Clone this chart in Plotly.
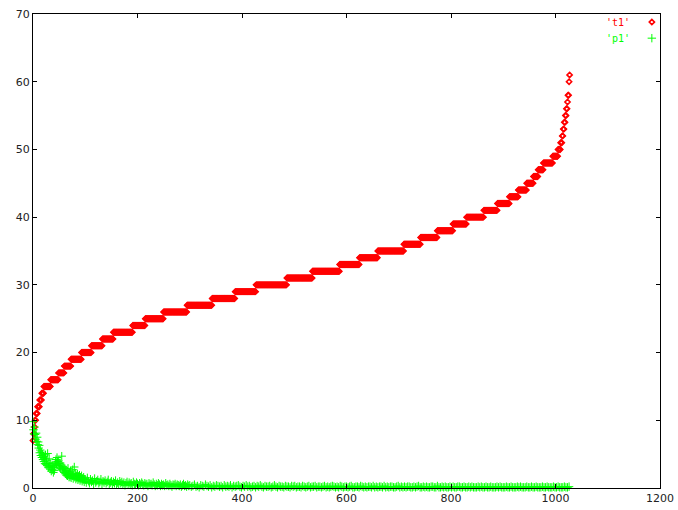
import plotly.graph_objects as go

# ---- t1: sorted staircase, (level, first index where level starts) ----
t1_levels = [7, 8, 9, 10, 11, 12, 13, 14, 15, 16, 17, 18, 19, 20, 21, 22, 23, 24, 25,
             26, 27, 28, 29, 30, 31, 32, 33, 34, 35, 36, 37, 38, 39, 40, 41, 42, 43,
             44, 45, 46, 47, 48, 49, 50, 51, 52, 53, 54, 55, 56, 57, 58, 60, 61]
t1_starts = [0, 1, 3, 4, 6, 9, 13, 17, 21, 34, 49, 60, 73, 93, 112, 133, 154, 191, 215,
             250, 295, 343, 387, 427, 486, 535, 587, 625, 660, 710, 742, 774, 804, 830, 863, 889, 912,
             929, 945, 958, 967, 977, 995, 1005, 1010, 1013, 1015, 1017, 1019, 1021, 1023, 1024, 1026, 1027]
t1_end = 1028

# ---- p1 values ----
p1_head = [9.8, 8.6, 8.0, 9.0, 7.9, 7.2, 8.1, 6.9, 7.5, 6.4,
           6.8, 5.9, 6.3, 5.2, 5.6, 4.8, 5.3, 4.5, 5.0, 4.2,
           4.7, 3.9, 4.4, 3.6, 4.9, 3.5, 4.1, 3.3, 5.1, 3.7,
           3.0, 4.3, 3.2, 2.8, 3.6, 2.5, 3.1, 2.7, 3.4, 2.3,
           3.0, 2.6, 3.3, 3.8, 4.2, 3.5, 4.5, 3.9, 3.3, 4.0,
           3.6, 3.1, 3.7, 2.9, 3.4, 4.7, 2.7, 3.2, 2.5, 3.0,
           2.3, 2.8, 2.1, 2.6, 1.9, 2.4, 1.8, 2.9, 2.0, 1.6,
           2.2, 1.7, 2.5, 1.5, 2.0, 1.8, 2.7, 1.4, 1.9, 3.1,
           1.6, 2.2, 1.3, 1.8, 1.5, 2.1, 1.2, 1.7, 1.4, 1.9,
           1.1, 1.6, 1.3, 1.8, 1.0, 1.4, 1.2, 1.6, 0.9, 1.3]
p1_mid = [1.2, 0.8, 1.5, 1.0, 0.7, 1.3, 0.9, 1.1, 0.6, 1.4,
          0.8, 1.0, 1.2, 0.7, 0.9, 1.3, 0.6, 1.0, 0.8, 1.1,
          0.7, 0.9, 1.2, 0.6, 0.8, 1.0, 0.5, 0.9, 0.7, 1.1,
          0.6, 0.8, 0.5, 1.0, 0.7, 0.9, 0.6, 0.8, 0.4, 0.7,
          0.9, 0.5, 0.8, 0.6, 0.7, 0.4, 0.9, 0.6, 0.5, 0.8,
          0.6, 0.4, 0.7, 0.5, 0.8, 0.6, 0.4, 0.7, 0.5, 0.6,
          0.3, 0.7, 0.5, 0.6, 0.4, 0.8, 0.5, 0.3, 0.6, 0.4,
          0.7, 0.5, 0.3, 0.6, 0.4, 0.5, 0.3, 0.7, 0.4, 0.5,
          0.3, 0.6, 0.4, 0.2, 0.5, 0.4, 0.6, 0.3, 0.5, 0.4,
          0.3, 0.5, 0.2, 0.4, 0.6, 0.3, 0.4, 0.2, 0.5, 0.3]
p1_tail = [0.4, 0.2, 0.3, 0.5, 0.2, 0.3, 0.1, 0.4, 0.3, 0.2, 0.5, 0.3, 0.2, 0.4, 0.1, 0.3, 0.2, 0.4, 0.3, 0.2,
           0.3, 0.1, 0.4, 0.2, 0.3, 0.2, 0.4, 0.1, 0.3, 0.2, 0.3, 0.4, 0.2, 0.1, 0.3, 0.2, 0.4, 0.2, 0.3, 0.1,
           0.2, 0.3, 0.1, 0.3, 0.2, 0.4, 0.2, 0.1, 0.3, 0.2, 0.2, 0.3, 0.1, 0.2, 0.4, 0.2, 0.1, 0.3, 0.2, 0.2,
           0.1, 0.3, 0.2, 0.2, 0.1, 0.3, 0.2, 0.3, 0.1, 0.2, 0.2, 0.1, 0.3, 0.2, 0.1, 0.2, 0.3, 0.1, 0.2, 0.2,
           0.3, 0.1, 0.2, 0.2, 0.1, 0.2, 0.3, 0.1, 0.2, 0.1, 0.2, 0.3, 0.2, 0.1, 0.2, 0.1, 0.3, 0.2, 0.1, 0.2,
           0.2, 0.1, 0.2, 0.3, 0.1, 0.1, 0.2, 0.2, 0.1, 0.3, 0.2, 0.1, 0.2, 0.1, 0.2, 0.2, 0.1, 0.3, 0.1, 0.2,
           0.1, 0.2, 0.2, 0.1, 0.3, 0.1, 0.2, 0.1, 0.2, 0.2, 0.1, 0.1, 0.2, 0.3, 0.1, 0.2, 0.1, 0.2, 0.1, 0.2,
           0.2, 0.1, 0.1, 0.2, 0.1, 0.2, 0.3, 0.1, 0.1, 0.2, 0.1, 0.2, 0.1, 0.1, 0.2, 0.2, 0.1, 0.1, 0.3, 0.1,
           0.1, 0.2, 0.1, 0.2, 0.1, 0.1, 0.2, 0.1, 0.2, 0.1, 0.1, 0.2, 0.2, 0.1, 0.1, 0.2, 0.1, 0.1, 0.2, 0.1,
           0.2, 0.1, 0.1, 0.1, 0.2, 0.1, 0.2, 0.1, 0.1, 0.2, 0.1, 0.1, 0.2, 0.1, 0.1, 0.1, 0.2, 0.1, 0.2, 0.1,
           0.1, 0.1, 0.2, 0.1, 0.1, 0.2, 0.1, 0.1, 0.1, 0.2, 0.1, 0.2, 0.1, 0.1, 0.1, 0.2, 0.1, 0.1, 0.2, 0.1,
           0.1, 0.2, 0.1, 0.1, 0.1, 0.2, 0.1, 0.1, 0.2, 0.1, 0.1, 0.1, 0.2, 0.1, 0.1, 0.2, 0.1, 0.1, 0.1, 0.2,
           0.1, 0.1, 0.2]

x_ticks = [0, 200, 400, 600, 800, 1000, 1200]
y_ticks = [0, 10, 20, 30, 40, 50, 60, 70]
series_names = ["'t1'", "'p1'"]

# build t1 from staircase
t1_y = []
bounds = t1_starts[1:] + [t1_end]
for lvl, s, e in zip(t1_levels, t1_starts, bounds):
    t1_y += [lvl] * (e - s)
t1_x = list(range(len(t1_y)))

n_head = len(p1_head)
p1_x = list(range(n_head))
p1_x += list(range(n_head, n_head + 2 * len(p1_mid), 2))
p1_x += list(range(300, 300 + 3 * len(p1_tail), 3))
p1_y = p1_head + p1_mid + p1_tail

RED = "#ff0000"
GREEN = "#00ff00"
red_marker = dict(symbol="diamond-open", size=4, color=RED, line=dict(width=1.6, color=RED))
green_marker = dict(symbol="cross-thin-open", size=6, color=GREEN, line=dict(width=1, color=GREEN))

fig = go.Figure()
fig.add_trace(go.Scatter(x=t1_x, y=t1_y, mode="markers", name=series_names[0],
                         marker=red_marker, showlegend=False, cliponaxis=False))
fig.add_trace(go.Scatter(x=p1_x, y=p1_y, mode="markers", name=series_names[1],
                         marker=green_marker, showlegend=False, cliponaxis=False))

# legend samples (gnuplot style key: text then sample)
fig.add_trace(go.Scatter(x=[0.987], y=[0.983], mode="markers", xaxis="x2", yaxis="y2",
                         marker=red_marker, showlegend=False, hoverinfo="skip"))
fig.add_trace(go.Scatter(x=[0.987], y=[0.949], mode="markers", xaxis="x2", yaxis="y2",
                         marker=green_marker, showlegend=False, hoverinfo="skip"))

axis_common = dict(showgrid=False, zeroline=False, showline=True, linecolor="black",
                   linewidth=1, mirror="ticks", ticks="inside", ticklen=4, automargin=False,
                   tickcolor="black", tickfont=dict(family="DejaVu Sans", size=11, color="#222"))

fig.update_layout(
    width=678, height=510,
    margin=dict(l=33, r=18, t=14, b=22),
    paper_bgcolor="white", plot_bgcolor="white",
    xaxis=dict(range=[0, 1200], tickvals=x_ticks, **axis_common),
    yaxis=dict(range=[0, 70], tickvals=y_ticks, **axis_common),
    xaxis2=dict(overlaying="x", range=[0, 1], visible=False),
    yaxis2=dict(overlaying="y", range=[0, 1], visible=False),
    annotations=[
        dict(text=series_names[0], x=0.955, y=0.983, xref="paper", yref="paper",
             xanchor="right", yanchor="middle", showarrow=False,
             font=dict(family="DejaVu Sans Mono", size=10, color=RED)),
        dict(text=series_names[1], x=0.955, y=0.949, xref="paper", yref="paper",
             xanchor="right", yanchor="middle", showarrow=False,
             font=dict(family="DejaVu Sans Mono", size=10, color=GREEN)),
    ],
)

# remove the browser's default body margin so the figure fills the window exactly
fig.write_html("out.html",
               config={"displayModeBar": False},
               post_script="document.body.style.margin='0';document.body.style.overflow='hidden';")
